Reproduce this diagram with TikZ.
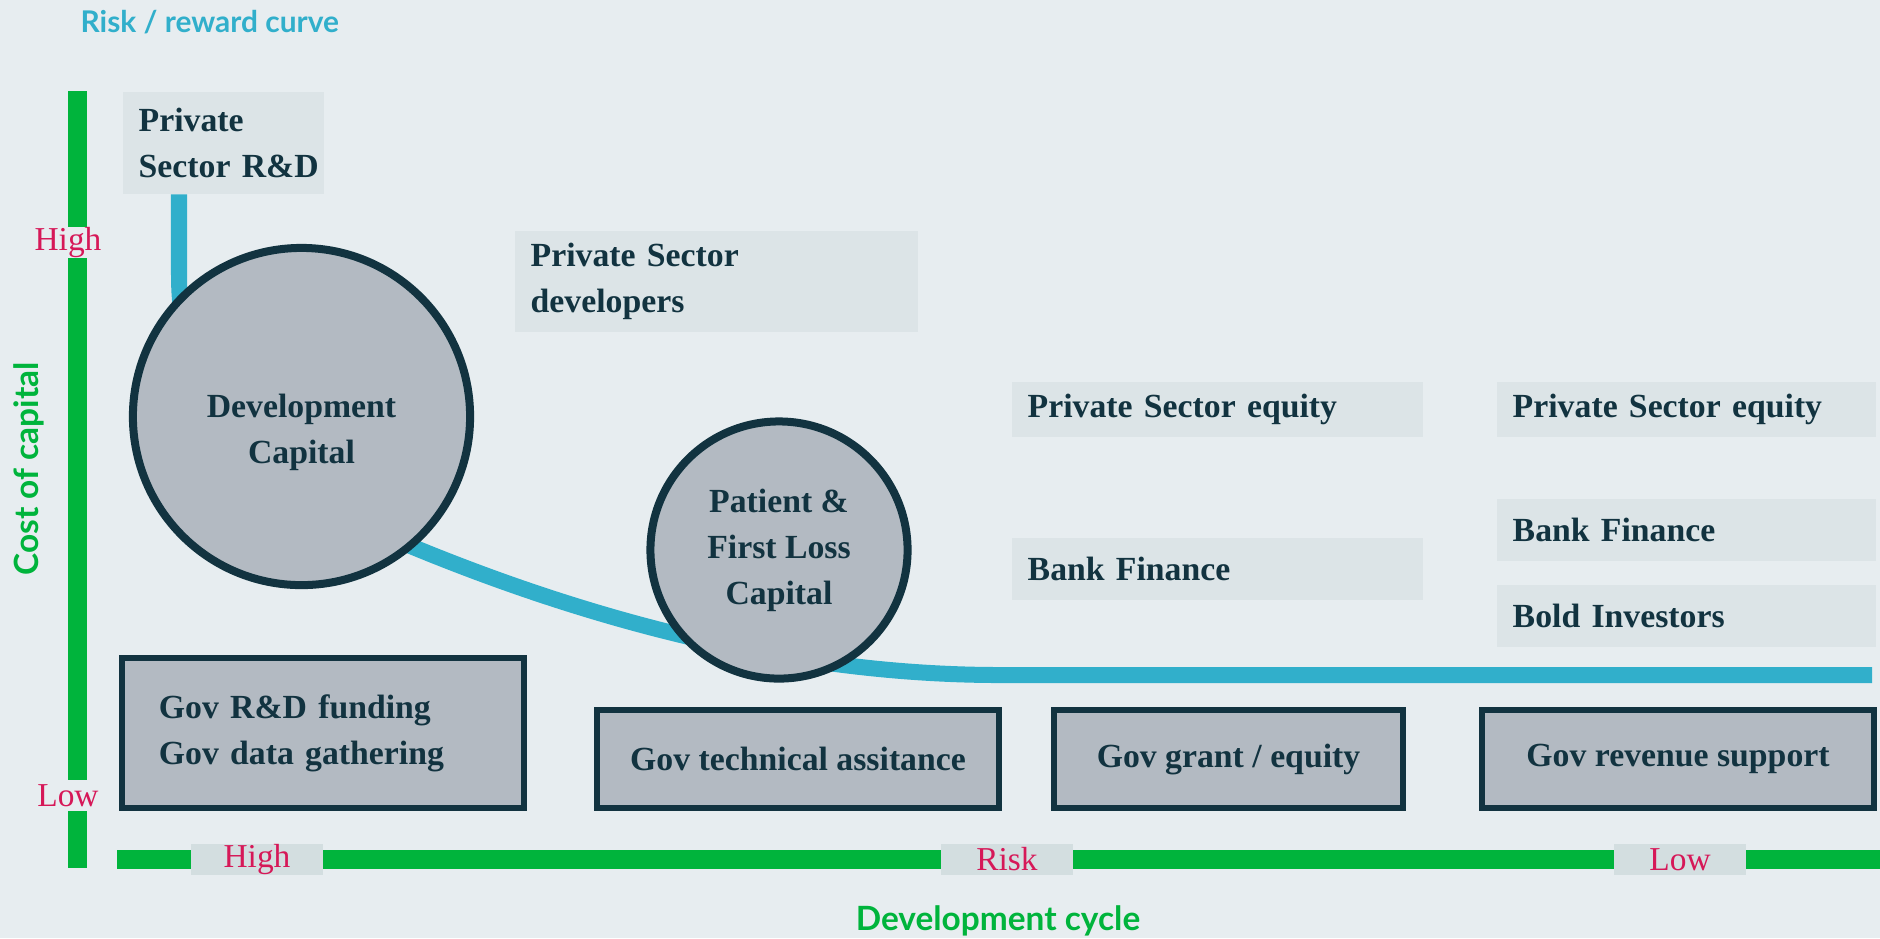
\documentclass[tikz,border=0pt]{standalone}
\usepackage{fontspec}
\setmainfont{Liberation Serif}
\newfontfamily\labelfont{Lato}
\definecolor{canvas}{RGB}{231,237,240}
\definecolor{panel}{RGB}{220,228,231}
\definecolor{tag}{RGB}{211,222,224}
\definecolor{slate}{RGB}{179,186,194}
\definecolor{ink}{RGB}{18,51,64}
\definecolor{reward}{RGB}{49,175,203}
\definecolor{axisgreen}{RGB}{0,180,60}
\definecolor{crimson}{RGB}{214,24,88}
\tikzstyle{funder}=[fill=panel, anchor=north west, inner xsep=0.16cm, inner ysep=0, align=left, text=ink, font=\bfseries\fontsize{9.6}{13.1}\selectfont]
\tikzstyle{gov}=[draw=ink, fill=slate, line width=0.06cm, inner sep=0, text=ink, font=\bfseries\fontsize{9.6}{13.1}\selectfont]
\tikzstyle{capital}=[circle, draw=ink, fill=slate, line width=0.08cm, inner sep=0]
\tikzstyle{capital text}=[align=center, text=ink, font=\bfseries\fontsize{9.6}{13.1}\selectfont]
\tikzstyle{axis}=[axisgreen, line width=0.19cm]
\tikzstyle{tick}=[text=crimson, inner sep=0, minimum height=0.31cm, font=\fontsize{9.5}{11}\selectfont]
\tikzstyle{heading}=[font=\labelfont\bfseries\fontsize{9.5}{11}\selectfont]

\begin{document}
\begin{tikzpicture}[x=0.01cm, y=-0.01cm]
  \useasboundingbox (0,0) rectangle (1880,938);
  \fill[canvas] (0,0) rectangle (1880,938);

  % axes with their tick labels
  \draw[axis] (77.5,91) -- (77.5,868);
  \draw[axis] (117,859) -- (1880,859);
  \node[tick, fill=canvas] (y_high) at (68,242.5) {High};
  \node[tick, fill=canvas] (y_low) at (68,795.5) {Low};
  \node[tick, fill=tag, minimum width=1.32cm] (x_high) at (257,859.5) {High};
  \node[tick, fill=tag, minimum width=1.32cm] (x_risk) at (1007,859.5) {Risk};
  \node[tick, fill=tag, minimum width=1.32cm] (x_low) at (1680,859.5) {Low};

  % private money
  \node[funder, minimum width=2.01cm, minimum height=1.02cm, text width=1.69cm] (ps_rd) at (122,91) {Private\\Sector~R\&D};
  \node[funder, minimum width=4.03cm, minimum height=1.01cm, text width=3.71cm] (ps_dev) at (514,230) {Private Sector\\developers};
  \node[funder, minimum width=4.11cm, minimum height=0.55cm, text width=3.79cm] (ps_eq_mid) at (1011,381) {Private Sector equity};
  \node[funder, minimum width=4.11cm, minimum height=0.62cm, text width=3.79cm] (bank_mid) at (1011,537) {Bank Finance};
  \node[funder, minimum width=3.79cm, minimum height=0.55cm, text width=3.47cm] (ps_eq_right) at (1496,381) {Private Sector equity};
  \node[funder, minimum width=3.79cm, minimum height=0.62cm, text width=3.47cm] (bank_right) at (1496,498) {Bank Finance};
  \node[funder, minimum width=3.79cm, minimum height=0.62cm, text width=3.47cm] (bold_inv) at (1496,584) {Bold Investors};

  % risk / reward curve, runs behind the circles
  \draw[reward, line width=0.16cm] (ps_rd.south -| 179,0) -- (179,275)
    .. controls (179,400) and (250,480) .. (413,547)
    .. controls (600,624) and (800,675) .. (1000,675) -- (1872,675);

  \node[capital, minimum size=3.37cm] (dev_cap) at (301.5,416.5) {};
  \node[capital text] (dev_cap_txt) at ([yshift=-0.16cm]dev_cap.center) {Development\\Capital};
  \node[capital, minimum size=2.57cm] (first_loss) at (779,550) {};
  \node[capital text] (first_loss_txt) at (first_loss.center) {Patient \&\\First Loss\\Capital};

  % public money
  \node[gov, minimum width=4.02cm, minimum height=1.50cm, text width=3.28cm, align=left] (gov_rd) at (323,733) {Gov R\&D funding\\Gov data gathering};
  \node[gov, minimum width=4.02cm, minimum height=0.98cm] (gov_ta) at (798,759) {Gov technical assitance};
  \node[gov, minimum width=3.49cm, minimum height=0.98cm] (gov_grant) at (1228.5,759) {Gov grant / equity};
  \node[gov, minimum width=3.92cm, minimum height=0.98cm] (gov_rev) at (1678,759) {Gov revenue support};

  \node[heading, font=\labelfont\bfseries\fontsize{8.5}{10}\selectfont, text=reward, anchor=west, inner sep=0] (title) at (80,22) {Risk / reward curve};
  \node[heading, text=axisgreen] (x_title) at (998,921) {Development cycle};
  \node[heading, text=axisgreen, rotate=90] (y_title) at (29,469) {Cost of capital};
\end{tikzpicture}
\end{document}
